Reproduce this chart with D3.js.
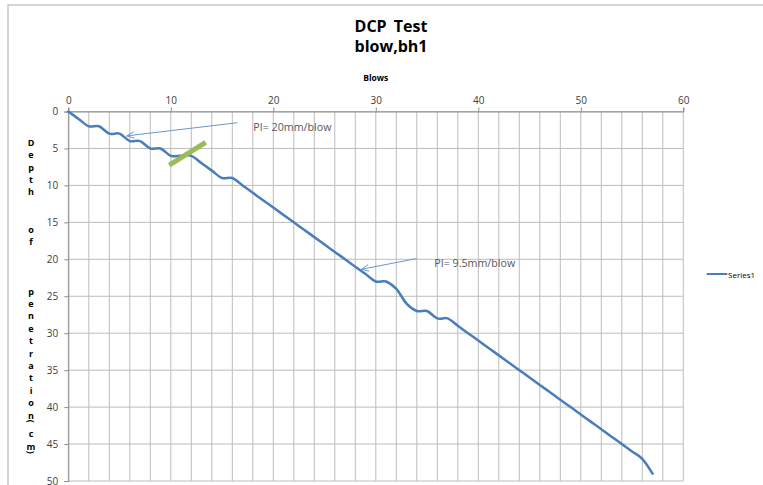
<!DOCTYPE html>
<html>
<head>
<meta charset="utf-8">
<script src="https://cdn.jsdelivr.net/npm/d3@7"></script>
<style>
  html, body { margin: 0; padding: 0; background: #ffffff; }
  svg { display: block; }
  text { font-family: "Open Sans", "Liberation Sans", sans-serif; }
</style>
</head>
<body>
<div id="chart"></div>
<script>
// ---- data ----
const blows = [0,1,2,3,4,5,6,7,8,9,10,11,12,13,14,15,16,17,18,19,20,21,22,23,24,25,26,27,28,29,30,31,32,33,34,35,36,37,38,39,40,41,42,43,44,45,46,47,48,49,50,51,52,53,54,55,56,57];
const depth = [0,1,2,2,3,3,4,4,5,5,6,6,6,7,8,9,9,10,11,12,13,14,15,16,17,18,19,20,21,22,23,23,24,26,27,27,28,28,29,30,31,32,33,34,35,36,37,38,39,40,41,42,43,44,45,46,47,49];
const seriesName = "Series1";
const xTicks = [0,10,20,30,40,50,60];
const yTicks = [0,5,10,15,20,25,30,35,40,45,50];
const xGrid = [0,2,4,6,8,10,12,14,16,18,20,22,24,26,28,30,32,34,36,38,40,42,44,46,48,50,52,54,56,58,60];
const titleLines = ["DCP Test", "blow,bh1"];
const xTitle = "Blows";
const yTitleChars = ["D","e","p","t","h","","","o","f","","","","p","e","n","e","t","r","a","t","i","o","n","(","c","m",")"];
// annotations: [text, text blows, text depth, arrow start blows, start depth, arrow end blows, end depth]
const notes = [
  ["PI= 20mm/blow", 18.05, 2.15, 16.5, 1.52, 5.7, 3.3],
  ["PI= 9.5mm/blow", 35.7, 20.45, 34.0, 19.9, 28.6, 21.35]
];
// highlighted slope marker (blows, depth)
const marker = [[9.85, 7.24], [13.4, 4.17]];

const W = 763, H = 485;
const pL = 68.3, pR = 683.3, pT = 111.5, pB = 481;

const svg = d3.select("#chart").append("svg").attr("width", W).attr("height", H);

// outer chart border
svg.append("rect").attr("x", 8).attr("y", 5).attr("width", W + 10).attr("height", H + 10)
  .attr("fill", "#fff").attr("stroke", "#c8c8c8").attr("stroke-width", 1.5);

const x = d3.scaleLinear().domain([0, 60]).range([pL, pR]);
const y = d3.scaleLinear().domain([0, 50]).range([pT, pB]);

// gridlines
const grid = svg.append("g").attr("stroke", "#bdbdbd").attr("stroke-width", 1);
grid.selectAll("line.v").data(xGrid).join("line").attr("class", "v")
  .attr("x1", d => x(d)).attr("x2", d => x(d)).attr("y1", pT).attr("y2", pB);
grid.selectAll("line.h").data(yTicks).join("line").attr("class", "h")
  .attr("x1", pL).attr("x2", pR).attr("y1", d => y(d)).attr("y2", d => y(d));

// axes
const xAxis = svg.append("g").attr("transform", `translate(0,${pT})`)
  .call(d3.axisTop(x).tickValues(xTicks).tickSize(4).tickPadding(4).tickFormat(d3.format("d")));
const yAxis = svg.append("g").attr("transform", `translate(${pL},0)`)
  .call(d3.axisLeft(y).tickValues(yTicks).tickSize(4).tickPadding(6).tickFormat(d3.format("d")));
[xAxis, yAxis].forEach(a => {
  a.select(".domain").attr("stroke", "#8c8c8c");
  a.selectAll(".tick line").attr("stroke", "#8c8c8c");
  a.selectAll(".tick text").attr("fill", "#404040").attr("font-size", 10)
    .attr("font-family", "'Open Sans', sans-serif");
});

// titles
svg.append("g").selectAll("text").data(titleLines).join("text")
  .attr("x", 391).attr("y", (d, i) => 31.5 + i * 20)
  .attr("text-anchor", "middle").attr("font-size", 16).attr("font-weight", "bold")
  .attr("fill", "#000").attr("word-spacing", 3).text(d => d);

svg.append("text").attr("x", (pL + pR) / 2).attr("y", 80.5)
  .attr("text-anchor", "middle").attr("font-size", 8.5).attr("font-weight", "bold")
  .attr("fill", "#000").text(xTitle);

// stacked vertical y title
let yy = 142.3;
const yPos = [];
yTitleChars.forEach((c, i) => {
  if (i > 0) yy += (c === "(" || c === ")") ? 6.2 : 12.4;
  yPos.push(yy);
});
svg.append("g").selectAll("text").data(yTitleChars).join("text")
  .attr("font-size", 9).attr("font-weight", "bold").attr("fill", "#000")
  .attr("text-anchor", "middle").attr("dominant-baseline", "central")
  .attr("transform", (d, i) => (d === "(" || d === ")")
    ? `translate(31,${yPos[i]}) rotate(90)` : `translate(31,${yPos[i]})`)
  .text(d => d);

// series line
const line = d3.line().x((d, i) => x(blows[i])).y(d => y(d)).curve(d3.curveCardinal.tension(0));
svg.append("path").datum(depth).attr("d", line)
  .attr("fill", "none").attr("stroke", "#4a7ebb").attr("stroke-width", 2.5)
  .attr("stroke-linejoin", "round").attr("stroke-linecap", "round");

// green slope marker
svg.append("line")
  .attr("x1", x(marker[0][0])).attr("y1", y(marker[0][1]))
  .attr("x2", x(marker[1][0])).attr("y2", y(marker[1][1]))
  .attr("stroke", "#9bbb59").attr("stroke-width", 5);

// annotation arrows and text
const ann = svg.append("g");
notes.forEach(n => {
  const x1 = x(n[3]), y1 = y(n[4]), x2 = x(n[5]), y2 = y(n[6]);
  ann.append("line").attr("x1", x1).attr("y1", y1).attr("x2", x2).attr("y2", y2)
    .attr("stroke", "#6f95c8").attr("stroke-width", 1);
  const ang = Math.atan2(y1 - y2, x1 - x2);
  const L = 8, spread = 0.42;
  [ang + spread, ang - spread].forEach(a => {
    ann.append("line").attr("x1", x2).attr("y1", y2)
      .attr("x2", x2 + L * Math.cos(a)).attr("y2", y2 + L * Math.sin(a))
      .attr("stroke", "#6f95c8").attr("stroke-width", 1);
  });
  ann.append("text").attr("x", x(n[1])).attr("y", y(n[2]))
    .attr("dominant-baseline", "central").attr("font-size", 10.7)
    .attr("fill", "#595959").text(n[0]);
});

// legend
const lg = svg.append("g");
lg.append("line").attr("x1", 706.7).attr("x2", 727.3).attr("y1", 274).attr("y2", 274)
  .attr("stroke", "#4a7ebb").attr("stroke-width", 2);
lg.append("text").attr("x", 728).attr("y", 274).attr("dominant-baseline", "central")
  .attr("font-size", 8).attr("fill", "#000").text(seriesName);
</script>
</body>
</html>
